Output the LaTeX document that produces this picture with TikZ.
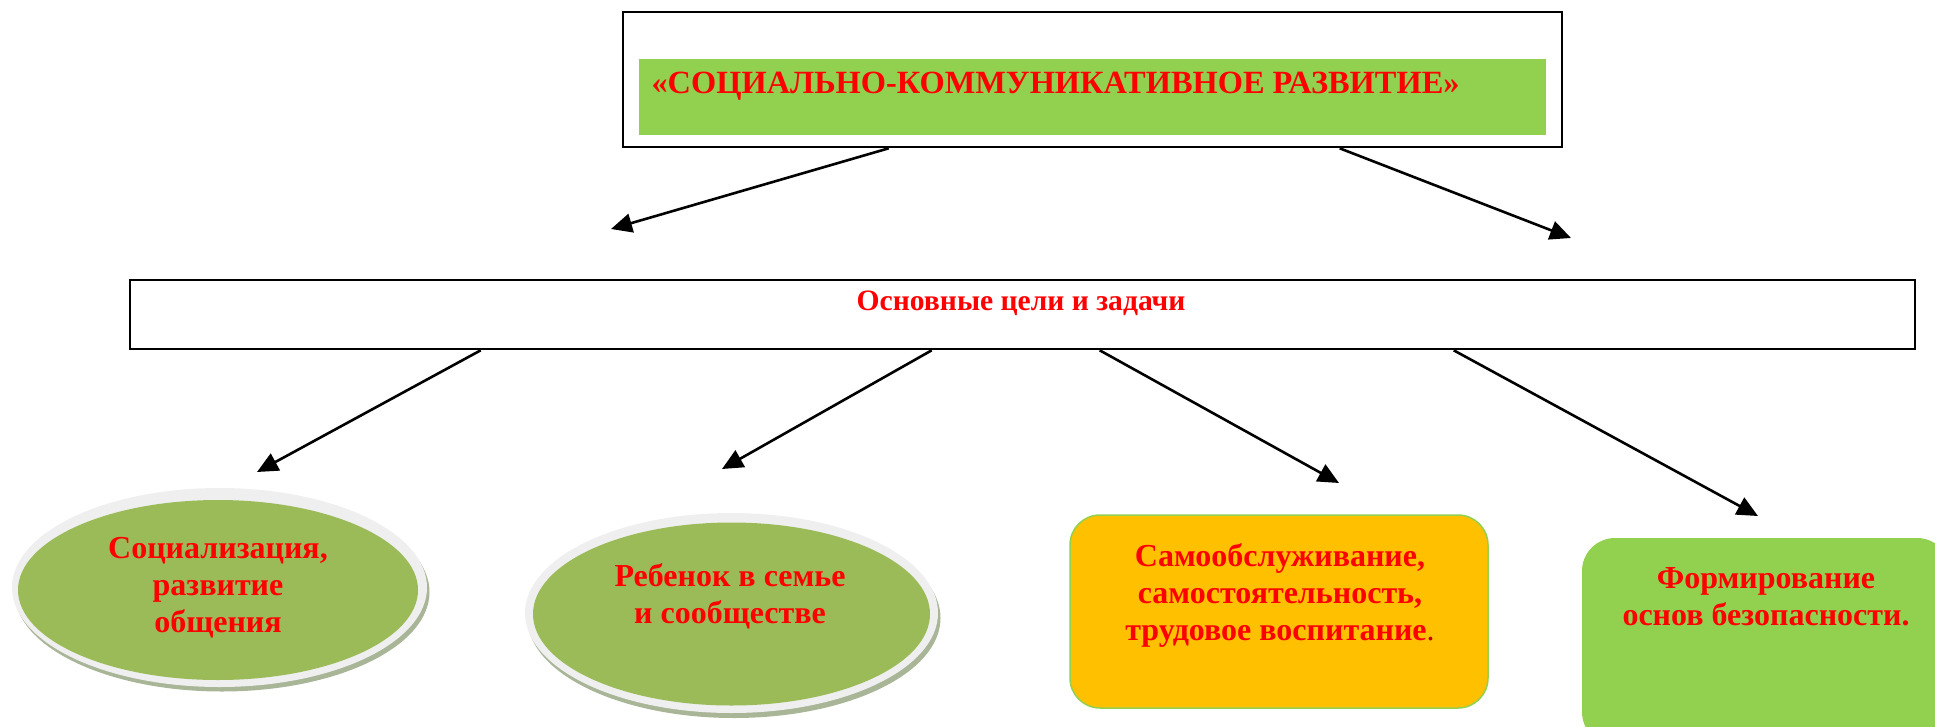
\documentclass[tikz,border=0pt]{standalone}
\usepackage{fontspec}
\setmainfont{Liberation Serif}
\usetikzlibrary{shapes.geometric,arrows.meta,positioning}

\definecolor{lgreen}{HTML}{92D050}
\definecolor{ovalgreen}{HTML}{9BBB59}
\definecolor{ringgray}{HTML}{EFEFEF}
\definecolor{shadegreen}{HTML}{A9B597}
\definecolor{boxorange}{HTML}{FFC000}
\definecolor{dotred}{HTML}{C00000}

\tikzset{
  arr/.style={line width=2.6pt,-{Triangle[length=21pt,width=19pt]}},
  lbl/.style={text=red,font=\bfseries\fontsize{32}{37}\selectfont,align=center},
  frame/.style={draw,line width=2.6pt,inner sep=0pt},
  oval/.style={ellipse,inner sep=0pt},
}

\begin{document}
\begin{tikzpicture}[x=1pt,y=-1pt]
\useasboundingbox (0,0) rectangle (1935,726);

% top block
\node[frame,minimum width=939pt,minimum height=135pt] (head) at (1092.5,79.5) {};
\node[fill=lgreen,inner sep=0pt,minimum width=907pt,minimum height=76pt] (band) at (1092.5,97) {};
\node[anchor=base west,text=red,font=\bfseries\fontsize{32.4}{37}\selectfont] (title) at (648,93) {«СОЦИАЛЬНО-КОММУНИКАТИВНОЕ РАЗВИТИЕ»};

% goals
\node[frame,minimum width=1785pt,minimum height=69pt] (goals) at (1022.5,314.5) {};
\node[anchor=base,text=red,font=\bfseries\fontsize{29.6}{34}\selectfont] (goalstext) at (1021,310) {Основные цели и задачи};

% ovals
\node[oval,fill=shadegreen,minimum width=415pt,minimum height=199pt] (s1) at (222,592) {};
\node[oval,fill=ringgray,minimum width=415pt,minimum height=199pt] (r1) at (219.5,587.5) {};
\node[oval,fill=ovalgreen,minimum width=400pt,minimum height=180pt] (o1) at (218,590) {};
\node[lbl] (t1) at (218,588) {Социализация,\\развитие\\общения};

\node[oval,fill=shadegreen,minimum width=413pt,minimum height=200pt] (s2) at (734,618) {};
\node[oval,fill=ringgray,minimum width=413pt,minimum height=200pt] (r2) at (731.5,613) {};
\node[oval,fill=ovalgreen,minimum width=397pt,minimum height=183pt] (o2) at (731.5,614) {};
\node[lbl] (t2) at (730,596) {Ребенок в семье\\и сообществе};

% boxes
\node[draw=lgreen,line width=1.5pt,fill=boxorange,rounded corners=30pt,minimum width=418pt,minimum height=193pt] (b3) at (1279,611.5) {};
\node[lbl] (t3) at (1280,595) {Самообслуживание,\\самостоятельность,\\трудовое воспитание{\mdseries\color{dotred}.}};

\node[fill=lgreen,rounded corners=33pt,minimum width=368pt,minimum height=207pt] (b4) at (1766,641.5) {};
\node[lbl] (t4) at (1766,597) {Формирование\\основ безопасности.};

% arrows
\coordinate (e1) at (611,229);
\coordinate (e2) at (1571,238);
\coordinate (f1) at (257,472);
\coordinate (f2) at (722,469);
\coordinate (f3) at (1339,483);
\coordinate (f4) at (1758,516);

\draw[arr] ([xshift=267pt]head.south west) -- (e1);
\draw[arr] ([xshift=718pt]head.south west) -- (e2);
\draw[arr] ([xshift=352pt]goals.south west) -- (f1);
\draw[arr] ([xshift=803pt]goals.south west) -- (f2);
\draw[arr] ([xshift=971pt]goals.south west) -- (f3);
\draw[arr] ([xshift=1325pt]goals.south west) -- (f4);
\end{tikzpicture}
\end{document}
